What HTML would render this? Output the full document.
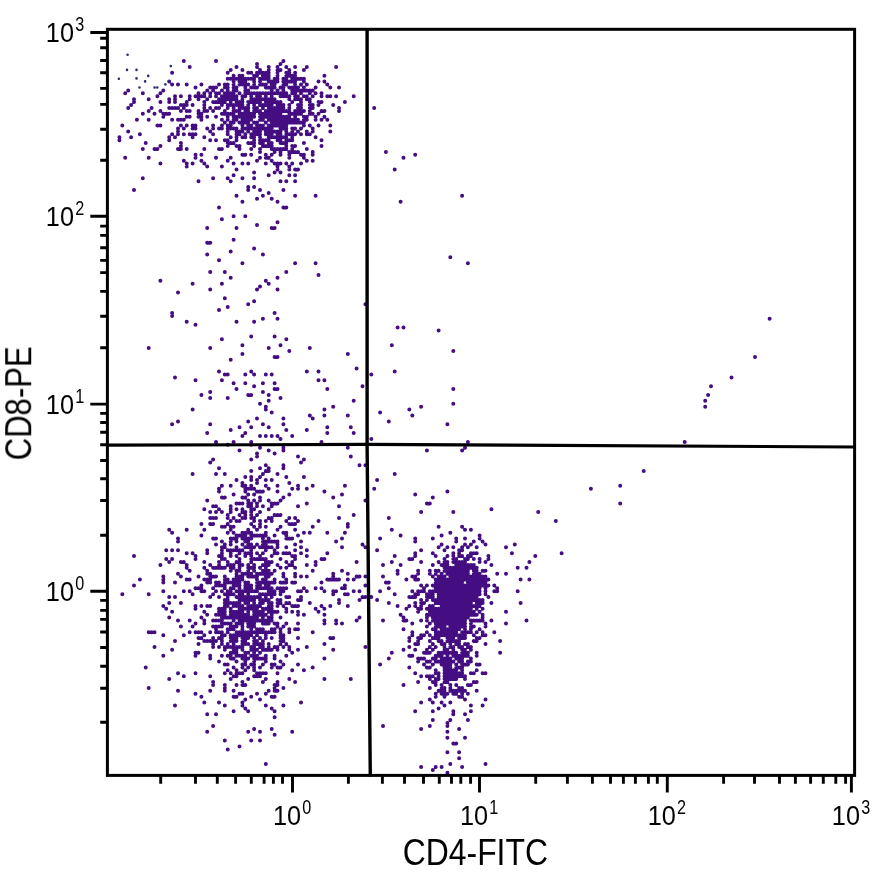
<!DOCTYPE html><html><head><meta charset="utf-8"><title>CD4-FITC vs CD8-PE</title>
<style>html,body{margin:0;padding:0;background:#fff;overflow:hidden}svg{display:block}text{font-family:"Liberation Sans",sans-serif;fill:#000}</style></head><body>
<svg width="884" height="887" viewBox="0 0 884 887">
<rect width="884" height="887" fill="#fff"/>
<path d="M280.5 128.5h.01M251.2 134.3h.01M301.0 102.1h.01M248.2 102.1h.01M268.7 137.2h.01M280.5 69.9h.01M265.8 134.3h.01M271.7 81.6h.01M283.4 81.6h.01M301.0 78.7h.01M271.7 134.3h.01M233.6 105.0h.01M248.2 110.9h.01M260.0 78.7h.01M309.8 110.9h.01M277.5 75.7h.01M268.7 69.9h.01M271.7 87.4h.01M242.4 128.5h.01M286.3 75.7h.01M274.6 81.6h.01M274.6 99.2h.01M274.6 107.9h.01M227.7 87.4h.01M306.8 116.7h.01M301.0 93.3h.01M254.1 107.9h.01M292.2 81.6h.01M221.9 113.8h.01M292.2 75.7h.01M245.3 90.4h.01M245.3 93.3h.01M312.7 105.0h.01M289.3 110.9h.01M254.1 140.2h.01M286.3 119.7h.01M254.1 87.4h.01M309.8 134.3h.01M268.7 110.9h.01M227.7 93.3h.01M301.0 107.9h.01M251.2 87.4h.01M233.6 113.8h.01M230.7 93.3h.01M283.4 78.7h.01M248.2 90.4h.01M283.4 90.4h.01M236.5 119.7h.01M268.7 107.9h.01M286.3 110.9h.01M248.2 119.7h.01M274.6 87.4h.01M248.2 84.5h.01M233.6 93.3h.01M286.3 93.3h.01M239.5 84.5h.01M221.9 119.7h.01M230.7 122.6h.01M301.0 90.4h.01M271.7 125.5h.01M298.0 119.7h.01M230.7 102.1h.01M257.0 107.9h.01M230.7 78.7h.01M298.0 96.2h.01M303.9 125.5h.01M254.1 105.0h.01M271.7 93.3h.01M257.0 128.5h.01M224.8 122.6h.01M283.4 128.5h.01M242.4 107.9h.01M257.0 134.3h.01M233.6 99.2h.01M245.3 122.6h.01M306.8 84.5h.01M277.5 72.8h.01M277.5 102.1h.01M227.7 78.7h.01M315.6 87.4h.01M268.7 102.1h.01M265.8 128.5h.01M301.0 122.6h.01M295.1 90.4h.01M230.7 128.5h.01M260.0 72.8h.01M295.1 93.3h.01M277.5 140.2h.01M298.0 131.4h.01M242.4 105.0h.01M312.7 96.2h.01M262.9 125.5h.01M277.5 107.9h.01M245.3 84.5h.01M260.0 119.7h.01M309.8 99.2h.01M280.5 116.7h.01M260.0 116.7h.01M289.3 75.7h.01M271.7 105.0h.01M271.7 99.2h.01M245.3 96.2h.01M257.0 110.9h.01M260.0 93.3h.01M257.0 122.6h.01M274.6 102.1h.01M233.6 90.4h.01M239.5 122.6h.01M216.0 116.7h.01M280.5 119.7h.01M257.0 125.5h.01M236.5 87.4h.01M303.9 116.7h.01M292.2 87.4h.01M254.1 78.7h.01M233.6 75.7h.01M233.6 81.6h.01M265.8 78.7h.01M245.3 113.8h.01M295.1 78.7h.01M286.3 66.9h.01M301.0 84.5h.01M289.3 113.8h.01M321.5 110.9h.01M289.3 99.2h.01M254.1 75.7h.01M254.1 99.2h.01M295.1 119.7h.01M242.4 75.7h.01M295.1 66.9h.01M251.2 128.5h.01M251.2 119.7h.01M283.4 84.5h.01M274.6 131.4h.01M262.9 84.5h.01M248.2 107.9h.01M245.3 116.7h.01M236.5 105.0h.01M233.6 84.5h.01M309.8 105.0h.01M271.7 119.7h.01M262.9 78.7h.01M245.3 110.9h.01M262.9 105.0h.01M236.5 128.5h.01M251.2 78.7h.01M224.8 87.4h.01M236.5 96.2h.01M271.7 84.5h.01M286.3 72.8h.01M268.7 78.7h.01M227.7 90.4h.01M262.9 107.9h.01M254.1 122.6h.01M292.2 93.3h.01M289.3 107.9h.01M298.0 113.8h.01M268.7 105.0h.01M301.0 99.2h.01M260.0 131.4h.01M298.0 99.2h.01M260.0 102.1h.01M295.1 110.9h.01M306.8 96.2h.01M239.5 75.7h.01M283.4 96.2h.01M239.5 81.6h.01M268.7 113.8h.01M221.9 102.1h.01M257.0 75.7h.01M260.0 81.6h.01M242.4 137.2h.01M227.7 84.5h.01M268.7 93.3h.01M298.0 105.0h.01M283.4 105.0h.01M286.3 128.5h.01M245.3 134.3h.01M280.5 64.0h.01M257.0 87.4h.01M265.8 96.2h.01M277.5 116.7h.01M295.1 87.4h.01M277.5 69.9h.01M224.8 84.5h.01M254.1 102.1h.01M245.3 137.2h.01M262.9 113.8h.01M298.0 107.9h.01M236.5 78.7h.01M292.2 137.2h.01M292.2 78.7h.01M306.8 134.3h.01M295.1 134.3h.01M242.4 81.6h.01M257.0 99.2h.01M265.8 99.2h.01M242.4 119.7h.01M251.2 137.2h.01M236.5 66.9h.01M245.3 78.7h.01M274.6 78.7h.01M265.8 131.4h.01M233.6 110.9h.01M295.1 96.2h.01M230.7 113.8h.01M295.1 99.2h.01M303.9 87.4h.01M262.9 75.7h.01M286.3 84.5h.01M286.3 125.5h.01M265.8 72.8h.01M233.6 128.5h.01M265.8 93.3h.01M268.7 140.2h.01M277.5 131.4h.01M233.6 116.7h.01M260.0 128.5h.01M298.0 110.9h.01M260.0 99.2h.01M309.8 113.8h.01M271.7 137.2h.01M227.7 119.7h.01M303.9 90.4h.01M257.0 72.8h.01M265.8 116.7h.01M227.7 99.2h.01M224.8 102.1h.01M245.3 107.9h.01M248.2 131.4h.01M260.0 134.3h.01M312.7 131.4h.01M289.3 81.6h.01M257.0 93.3h.01M230.7 105.0h.01M280.5 110.9h.01M236.5 134.3h.01M242.4 99.2h.01M318.5 125.5h.01M289.3 140.2h.01M236.5 99.2h.01M268.7 119.7h.01M233.6 96.2h.01M315.6 116.7h.01M312.7 90.4h.01M277.5 122.6h.01M292.2 128.5h.01M286.3 78.7h.01M271.7 96.2h.01M260.0 125.5h.01M280.5 113.8h.01M248.2 93.3h.01M295.1 113.8h.01M257.0 66.9h.01M262.9 72.8h.01M268.7 75.7h.01M260.0 113.8h.01M303.9 78.7h.01M242.4 125.5h.01M295.1 122.6h.01M286.3 134.3h.01M224.8 113.8h.01M219.0 99.2h.01M306.8 119.7h.01M283.4 125.5h.01M251.2 113.8h.01M236.5 90.4h.01M268.7 66.9h.01M306.8 99.2h.01M239.5 93.3h.01M274.6 93.3h.01M277.5 137.2h.01M277.5 81.6h.01M242.4 78.7h.01M260.0 69.9h.01M306.8 66.9h.01M213.1 90.4h.01M295.1 128.5h.01M295.1 81.6h.01M271.7 110.9h.01M280.5 93.3h.01M309.8 93.3h.01M230.7 125.5h.01M301.0 113.8h.01M221.9 90.4h.01M227.7 125.5h.01M239.5 113.8h.01M298.0 90.4h.01M239.5 116.7h.01M239.5 102.1h.01M298.0 78.7h.01M260.0 140.2h.01M242.4 69.9h.01M239.5 131.4h.01M274.6 84.5h.01M260.0 84.5h.01M265.8 84.5h.01M257.0 64.0h.01M295.1 72.8h.01M254.1 116.7h.01M271.7 90.4h.01M260.0 105.0h.01M257.0 96.2h.01M274.6 119.7h.01M227.7 96.2h.01M295.1 84.5h.01M239.5 78.7h.01M251.2 116.7h.01M318.5 102.1h.01M254.1 131.4h.01M265.8 75.7h.01M257.0 131.4h.01M277.5 93.3h.01M268.7 72.8h.01M254.1 110.9h.01M303.9 69.9h.01M233.6 107.9h.01M289.3 105.0h.01M309.8 90.4h.01M289.3 122.6h.01M277.5 78.7h.01M289.3 119.7h.01M321.5 96.2h.01M309.8 102.1h.01M286.3 131.4h.01M306.8 90.4h.01M251.2 72.8h.01M283.4 87.4h.01M283.4 116.7h.01M283.4 122.6h.01M280.5 102.1h.01M286.3 116.7h.01M292.2 113.8h.01M277.5 113.8h.01M274.6 110.9h.01M295.1 116.7h.01M265.8 102.1h.01M271.7 116.7h.01M274.6 113.8h.01M286.3 122.6h.01M280.5 107.9h.01M271.7 107.9h.01M283.4 107.9h.01M277.5 105.0h.01M257.0 102.1h.01M283.4 119.7h.01M265.8 110.9h.01M292.2 119.7h.01M274.6 116.7h.01M289.3 116.7h.01M280.5 122.6h.01M277.5 119.7h.01M271.7 128.5h.01M277.5 110.9h.01M265.8 113.8h.01M271.7 122.6h.01M277.5 134.3h.01M303.9 96.2h.01M251.2 102.1h.01M262.9 93.3h.01M268.7 125.5h.01M280.5 87.4h.01M303.9 81.6h.01M236.5 116.7h.01M230.7 157.7h.01M277.5 90.4h.01M248.2 125.5h.01M201.4 113.8h.01M289.3 87.4h.01M271.7 102.1h.01M271.7 146.0h.01M248.2 72.8h.01M271.7 113.8h.01M251.2 125.5h.01M292.2 122.6h.01M289.3 69.9h.01M283.4 137.2h.01M280.5 151.9h.01M309.8 125.5h.01M268.7 128.5h.01M318.5 81.6h.01M230.7 96.2h.01M283.4 93.3h.01M268.7 143.1h.01M219.0 84.5h.01M239.5 149.0h.01M321.5 93.3h.01M230.7 99.2h.01M312.7 128.5h.01M315.6 119.7h.01M242.4 122.6h.01M260.0 137.2h.01M298.0 87.4h.01M251.2 93.3h.01M283.4 110.9h.01M248.2 78.7h.01M207.2 90.4h.01M262.9 146.0h.01M321.5 119.7h.01M268.7 99.2h.01M312.7 113.8h.01M265.8 87.4h.01M268.7 87.4h.01M268.7 116.7h.01M242.4 102.1h.01M301.0 128.5h.01M227.7 107.9h.01M265.8 105.0h.01M262.9 99.2h.01M295.1 75.7h.01M251.2 99.2h.01M224.8 110.9h.01M301.0 110.9h.01M189.7 134.3h.01M298.0 122.6h.01M254.1 128.5h.01M303.9 110.9h.01M239.5 110.9h.01M312.7 107.9h.01M242.4 96.2h.01M289.3 72.8h.01M242.4 113.8h.01M248.2 128.5h.01M254.1 113.8h.01M301.0 105.0h.01M280.5 96.2h.01M286.3 96.2h.01M280.5 131.4h.01M309.8 107.9h.01M280.5 125.5h.01M292.2 102.1h.01M318.5 105.0h.01M303.9 122.6h.01M260.0 96.2h.01M216.0 140.2h.01M280.5 137.2h.01M227.7 128.5h.01M260.0 151.9h.01M248.2 116.7h.01M245.3 119.7h.01M254.1 81.6h.01M268.7 81.6h.01M262.9 116.7h.01M227.7 116.7h.01M242.4 84.5h.01M321.5 102.1h.01M286.3 81.6h.01M221.9 128.5h.01M227.7 160.7h.01M221.9 125.5h.01M289.3 96.2h.01M251.2 96.2h.01M298.0 151.9h.01M289.3 151.9h.01M286.3 143.1h.01M277.5 163.6h.01M289.3 166.5h.01M245.3 154.8h.01M260.0 149.0h.01M236.5 146.0h.01M312.7 154.8h.01M306.8 131.4h.01M292.2 134.3h.01M265.8 140.2h.01M274.6 122.6h.01M286.3 149.0h.01M262.9 140.2h.01M295.1 146.0h.01M268.7 134.3h.01M260.0 143.1h.01M265.8 154.8h.01M280.5 140.2h.01M262.9 143.1h.01M233.6 143.1h.01M295.1 151.9h.01M289.3 157.7h.01M283.4 149.0h.01M227.7 143.1h.01M248.2 143.1h.01M251.2 154.8h.01M242.4 154.8h.01M292.2 146.0h.01M283.4 143.1h.01M260.0 157.7h.01M280.5 143.1h.01M271.7 160.7h.01M274.6 125.5h.01M242.4 131.4h.01M277.5 169.5h.01M280.5 149.0h.01M265.8 122.6h.01M251.2 149.0h.01M286.3 137.2h.01M262.9 128.5h.01M204.3 137.2h.01M274.6 137.2h.01M306.8 149.0h.01M265.8 163.6h.01M265.8 157.7h.01M271.7 149.0h.01M236.5 140.2h.01M292.2 149.0h.01M280.5 134.3h.01M303.9 119.7h.01M298.0 169.5h.01M315.6 137.2h.01M301.0 134.3h.01M268.7 146.0h.01M277.5 125.5h.01M251.2 143.1h.01M216.0 157.7h.01M254.1 137.2h.01M219.0 149.0h.01M274.6 149.0h.01M227.7 146.0h.01M254.1 146.0h.01M213.1 128.5h.01M216.0 102.1h.01M180.9 96.2h.01M239.5 134.3h.01M207.2 116.7h.01M180.9 105.0h.01M189.7 116.7h.01M201.4 154.8h.01M198.5 113.8h.01M216.0 107.9h.01M180.9 149.0h.01M195.5 134.3h.01M204.3 105.0h.01M201.4 96.2h.01M277.5 66.9h.01M210.2 140.2h.01M227.7 72.8h.01M224.8 93.3h.01M221.9 105.0h.01M195.5 154.8h.01M198.5 116.7h.01M245.3 128.5h.01M280.5 105.0h.01M210.2 107.9h.01M248.2 113.8h.01M180.9 119.7h.01M198.5 99.2h.01M254.1 93.3h.01M204.3 149.0h.01M195.5 125.5h.01M283.4 61.1h.01M221.9 149.0h.01M236.5 131.4h.01M198.5 93.3h.01M219.0 128.5h.01M245.3 87.4h.01M186.7 102.1h.01M227.7 113.8h.01M186.7 84.5h.01M227.7 140.2h.01M245.3 81.6h.01M216.0 93.3h.01M204.3 96.2h.01M221.9 96.2h.01M213.1 134.3h.01M195.5 96.2h.01M227.7 134.3h.01M210.2 131.4h.01M224.8 99.2h.01M221.9 166.5h.01M230.7 143.1h.01M178.0 119.7h.01M178.0 149.0h.01M315.6 93.3h.01M224.8 96.2h.01M239.5 146.0h.01M224.8 140.2h.01M271.7 131.4h.01M233.6 87.4h.01M221.9 99.2h.01M219.0 93.3h.01M183.8 128.5h.01M239.5 107.9h.01M233.6 78.7h.01M227.7 105.0h.01M242.4 116.7h.01M233.6 163.6h.01M192.6 125.5h.01M207.2 110.9h.01M248.2 105.0h.01M236.5 137.2h.01M230.7 137.2h.01M178.0 134.3h.01M233.6 119.7h.01M201.4 84.5h.01M189.7 66.9h.01M186.7 116.7h.01M204.3 107.9h.01M230.7 69.9h.01M213.1 102.1h.01M254.1 84.5h.01M239.5 105.0h.01M204.3 163.6h.01M180.9 125.5h.01M216.0 87.4h.01M192.6 134.3h.01M192.6 105.0h.01M178.0 128.5h.01M289.3 134.3h.01M189.7 110.9h.01M292.2 131.4h.01M219.0 102.1h.01M180.9 146.0h.01M216.0 61.1h.01M227.7 131.4h.01M236.5 169.5h.01M195.5 157.7h.01M233.6 122.6h.01M198.5 110.9h.01M189.7 99.2h.01M198.5 96.2h.01M189.7 96.2h.01M213.1 87.4h.01M186.7 149.0h.01M192.6 137.2h.01M204.3 93.3h.01M192.6 163.6h.01M186.7 110.9h.01M201.4 119.7h.01M207.2 166.5h.01M186.7 163.6h.01M204.3 110.9h.01M213.1 125.5h.01M286.3 140.2h.01M183.8 119.7h.01M260.0 110.9h.01M271.7 143.1h.01M178.0 131.4h.01M292.2 90.4h.01M216.0 96.2h.01M201.4 116.7h.01M236.5 102.1h.01M204.3 102.1h.01M262.9 119.7h.01M183.8 134.3h.01M242.4 163.6h.01M201.4 160.7h.01M183.8 160.7h.01M192.6 128.5h.01M183.8 61.1h.01M180.9 110.9h.01M210.2 87.4h.01M254.1 134.3h.01M186.7 125.5h.01M207.2 128.5h.01M236.5 110.9h.01M207.2 99.2h.01M183.8 107.9h.01M219.0 107.9h.01M210.2 96.2h.01M186.7 166.5h.01M318.5 113.8h.01M178.0 84.5h.01M195.5 128.5h.01M183.8 105.0h.01M195.5 87.4h.01M180.9 143.1h.01M210.2 93.3h.01M186.7 105.0h.01M213.1 110.9h.01M303.9 143.1h.01M292.2 140.2h.01M303.9 154.8h.01M277.5 149.0h.01M289.3 169.5h.01M321.5 146.0h.01M301.0 154.8h.01M257.0 160.7h.01M277.5 166.5h.01M306.8 160.7h.01M265.8 146.0h.01M268.7 131.4h.01M274.6 163.6h.01M292.2 163.6h.01M292.2 151.9h.01M248.2 122.6h.01M303.9 157.7h.01M280.5 154.8h.01M289.3 154.8h.01M268.7 157.7h.01M254.1 143.1h.01M286.3 163.6h.01M274.6 151.9h.01M321.5 140.2h.01M312.7 151.9h.01M301.0 163.6h.01M286.3 146.0h.01M271.7 154.8h.01M248.2 163.6h.01M295.1 169.5h.01M280.5 163.6h.01M312.7 160.7h.01M254.1 172.4h.01M251.2 623.5h.01M245.3 553.2h.01M265.8 576.6h.01M248.2 602.9h.01M251.2 629.3h.01M248.2 594.2h.01M230.7 602.9h.01M233.6 644.0h.01M230.7 658.6h.01M251.2 635.2h.01M236.5 652.7h.01M230.7 591.2h.01M251.2 597.1h.01M257.0 617.6h.01M219.0 597.1h.01M277.5 588.3h.01M248.2 667.4h.01M245.3 600.0h.01M265.8 570.7h.01M248.2 626.4h.01M236.5 676.2h.01M286.3 608.8h.01M230.7 652.7h.01M245.3 591.2h.01M262.9 588.3h.01M230.7 582.4h.01M245.3 602.9h.01M254.1 676.2h.01M289.3 564.9h.01M233.6 667.4h.01M248.2 570.7h.01M260.0 597.1h.01M248.2 638.1h.01M227.7 629.3h.01M254.1 617.6h.01M251.2 547.3h.01M257.0 620.5h.01M265.8 567.8h.01M254.1 600.0h.01M254.1 614.7h.01M230.7 564.9h.01M245.3 588.3h.01M251.2 559.0h.01M242.4 644.0h.01M248.2 597.1h.01M233.6 626.4h.01M274.6 582.4h.01M283.4 588.3h.01M242.4 655.7h.01M254.1 570.7h.01M245.3 541.4h.01M268.7 623.5h.01M254.1 564.9h.01M248.2 591.2h.01M245.3 641.0h.01M251.2 576.6h.01M230.7 638.1h.01M260.0 582.4h.01M236.5 661.5h.01M257.0 655.7h.01M251.2 588.3h.01M265.8 600.0h.01M248.2 576.6h.01M265.8 614.7h.01M233.6 649.8h.01M257.0 553.2h.01M262.9 541.4h.01M213.1 685.0h.01M254.1 608.8h.01M221.9 614.7h.01M268.7 582.4h.01M213.1 646.9h.01M230.7 529.7h.01M219.0 608.8h.01M274.6 687.9h.01M224.8 594.2h.01M251.2 608.8h.01M239.5 632.2h.01M216.0 576.6h.01M242.4 608.8h.01M260.0 644.0h.01M245.3 614.7h.01M262.9 620.5h.01M242.4 594.2h.01M248.2 617.6h.01M254.1 661.5h.01M280.5 635.2h.01M254.1 597.1h.01M251.2 515.1h.01M236.5 632.2h.01M236.5 635.2h.01M271.7 573.7h.01M227.7 532.7h.01M233.6 564.9h.01M239.5 567.8h.01M280.5 591.2h.01M207.2 614.7h.01M254.1 652.7h.01M260.0 605.9h.01M227.7 602.9h.01M236.5 585.4h.01M254.1 667.4h.01M274.6 646.9h.01M233.6 602.9h.01M221.9 556.1h.01M274.6 629.3h.01M242.4 579.5h.01M210.2 641.0h.01M271.7 620.5h.01M245.3 617.6h.01M265.8 632.2h.01M242.4 576.6h.01M239.5 594.2h.01M271.7 561.9h.01M213.1 588.3h.01M230.7 646.9h.01M277.5 600.0h.01M224.8 559.0h.01M245.3 644.0h.01M245.3 658.6h.01M239.5 608.8h.01M242.4 646.9h.01M233.6 582.4h.01M242.4 614.7h.01M245.3 635.2h.01M268.7 646.9h.01M245.3 652.7h.01M257.0 588.3h.01M254.1 567.8h.01M277.5 605.9h.01M271.7 617.6h.01M248.2 600.0h.01M242.4 626.4h.01M262.9 594.2h.01M257.0 605.9h.01M221.9 608.8h.01M254.1 591.2h.01M260.0 602.9h.01M262.9 614.7h.01M224.8 547.3h.01M265.8 550.2h.01M239.5 597.1h.01M254.1 623.5h.01M254.1 620.5h.01M233.6 641.0h.01M236.5 655.7h.01M213.1 626.4h.01M233.6 605.9h.01M216.0 567.8h.01M248.2 588.3h.01M262.9 617.6h.01M236.5 605.9h.01M242.4 629.3h.01M257.0 614.7h.01M230.7 617.6h.01M248.2 585.4h.01M248.2 567.8h.01M262.9 623.5h.01M242.4 591.2h.01M210.2 579.5h.01M239.5 617.6h.01M210.2 564.9h.01M254.1 611.7h.01M257.0 673.2h.01M236.5 641.0h.01M230.7 629.3h.01M260.0 611.7h.01M221.9 641.0h.01M242.4 600.0h.01M248.2 611.7h.01M257.0 641.0h.01M245.3 620.5h.01M227.7 632.2h.01M248.2 532.7h.01M254.1 649.8h.01M254.1 655.7h.01M268.7 594.2h.01M221.9 617.6h.01M230.7 570.7h.01M221.9 635.2h.01M265.8 588.3h.01M257.0 644.0h.01M260.0 658.6h.01M233.6 532.7h.01M227.7 617.6h.01M248.2 582.4h.01M251.2 556.1h.01M233.6 585.4h.01M251.2 600.0h.01M251.2 550.2h.01M213.1 682.0h.01M251.2 626.4h.01M242.4 605.9h.01M239.5 564.9h.01M236.5 626.4h.01M260.0 620.5h.01M248.2 635.2h.01M230.7 635.2h.01M236.5 623.5h.01M251.2 664.5h.01M230.7 556.1h.01M227.7 564.9h.01M251.2 632.2h.01M271.7 594.2h.01M245.3 670.3h.01M242.4 664.5h.01M224.8 635.2h.01M271.7 629.3h.01M254.1 638.1h.01M260.0 567.8h.01M248.2 632.2h.01M260.0 652.7h.01M257.0 576.6h.01M257.0 611.7h.01M233.6 629.3h.01M242.4 573.7h.01M230.7 641.0h.01M265.8 620.5h.01M213.1 644.0h.01M289.3 553.2h.01M242.4 673.2h.01M227.7 600.0h.01M248.2 658.6h.01M245.3 632.2h.01M248.2 620.5h.01M242.4 658.6h.01M239.5 602.9h.01M254.1 605.9h.01M260.0 667.4h.01M251.2 538.5h.01M224.8 608.8h.01M257.0 579.5h.01M242.4 649.8h.01M221.9 623.5h.01M239.5 591.2h.01M248.2 644.0h.01M221.9 591.2h.01M248.2 608.8h.01M251.2 553.2h.01M236.5 638.1h.01M262.9 649.8h.01M204.3 529.7h.01M242.4 538.5h.01M219.0 556.1h.01M239.5 588.3h.01M262.9 608.8h.01M236.5 602.9h.01M251.2 605.9h.01M233.6 635.2h.01M280.5 588.3h.01M262.9 559.0h.01M265.8 561.9h.01M224.8 685.0h.01M230.7 520.9h.01M245.3 661.5h.01M242.4 623.5h.01M254.1 576.6h.01M227.7 605.9h.01M260.0 638.1h.01M248.2 652.7h.01M257.0 573.7h.01M236.5 646.9h.01M262.9 658.6h.01M265.8 594.2h.01M262.9 553.2h.01M260.0 673.2h.01M201.4 632.2h.01M242.4 641.0h.01M224.8 585.4h.01M271.7 664.5h.01M236.5 573.7h.01M233.6 588.3h.01M271.7 547.3h.01M283.4 591.2h.01M248.2 623.5h.01M233.6 567.8h.01M277.5 646.9h.01M224.8 600.0h.01M274.6 594.2h.01M242.4 550.2h.01M221.9 644.0h.01M262.9 644.0h.01M283.4 532.7h.01M277.5 544.4h.01M260.0 526.8h.01M245.3 573.7h.01M239.5 646.9h.01M242.4 611.7h.01M204.3 635.2h.01M292.2 611.7h.01M257.0 658.6h.01M227.7 591.2h.01M216.0 585.4h.01M271.7 588.3h.01M257.0 649.8h.01M227.7 597.1h.01M262.9 491.6h.01M257.0 585.4h.01M254.1 535.6h.01M233.6 538.5h.01M262.9 535.6h.01M233.6 638.1h.01M227.7 623.5h.01M268.7 576.6h.01M265.8 547.3h.01M251.2 561.9h.01M277.5 564.9h.01M260.0 559.0h.01M236.5 570.7h.01M260.0 614.7h.01M271.7 638.1h.01M286.3 579.5h.01M254.1 559.0h.01M265.8 608.8h.01M248.2 573.7h.01M230.7 673.2h.01M265.8 585.4h.01M230.7 608.8h.01M224.8 582.4h.01M221.9 626.4h.01M239.5 600.0h.01M268.7 608.8h.01M233.6 652.7h.01M239.5 553.2h.01M210.2 605.9h.01M254.1 632.2h.01M257.0 582.4h.01M230.7 541.4h.01M248.2 605.9h.01M286.3 623.5h.01M221.9 567.8h.01M260.0 588.3h.01M213.1 567.8h.01M219.0 632.2h.01M239.5 623.5h.01M242.4 544.4h.01M230.7 588.3h.01M201.4 588.3h.01M233.6 611.7h.01M224.8 611.7h.01M277.5 626.4h.01M265.8 635.2h.01M262.9 602.9h.01M227.7 594.2h.01M242.4 617.6h.01M242.4 620.5h.01M227.7 646.9h.01M251.2 591.2h.01M268.7 600.0h.01M251.2 646.9h.01M201.4 591.2h.01M236.5 597.1h.01M242.4 667.4h.01M260.0 629.3h.01M239.5 614.7h.01M257.0 608.8h.01M219.0 585.4h.01M254.1 658.6h.01M268.7 617.6h.01M265.8 544.4h.01M239.5 570.7h.01M245.3 547.3h.01M224.8 576.6h.01M271.7 582.4h.01M213.1 576.6h.01M274.6 553.2h.01M248.2 553.2h.01M251.2 573.7h.01M260.0 556.1h.01M221.9 655.7h.01M265.8 597.1h.01M239.5 582.4h.01M277.5 602.9h.01M262.9 629.3h.01M216.0 641.0h.01M251.2 649.8h.01M233.6 617.6h.01M251.2 620.5h.01M262.9 611.7h.01M265.8 573.7h.01M236.5 685.0h.01M251.2 567.8h.01M245.3 532.7h.01M283.4 576.6h.01M262.9 570.7h.01M219.0 646.9h.01M268.7 649.8h.01M283.4 626.4h.01M268.7 588.3h.01M260.0 646.9h.01M236.5 582.4h.01M257.0 635.2h.01M262.9 632.2h.01M219.0 561.9h.01M265.8 579.5h.01M245.3 655.7h.01M268.7 573.7h.01M268.7 602.9h.01M239.5 559.0h.01M271.7 605.9h.01M254.1 626.4h.01M248.2 614.7h.01M236.5 556.1h.01M286.3 655.7h.01M207.2 579.5h.01M227.7 579.5h.01M254.1 526.8h.01M268.7 471.1h.01M230.7 567.8h.01M210.2 523.9h.01M204.3 641.0h.01M265.8 679.1h.01M245.3 556.1h.01M221.9 541.4h.01M298.0 611.7h.01M280.5 617.6h.01M274.6 685.0h.01M245.3 685.0h.01M260.0 535.6h.01M239.5 635.2h.01M295.1 682.0h.01M245.3 608.8h.01M216.0 626.4h.01M230.7 611.7h.01M219.0 611.7h.01M257.0 482.9h.01M265.8 541.4h.01M257.0 479.9h.01M265.8 559.0h.01M283.4 553.2h.01M236.5 550.2h.01M221.9 638.1h.01M248.2 547.3h.01M280.5 641.0h.01M230.7 512.1h.01M236.5 541.4h.01M216.0 538.5h.01M213.1 518.0h.01M271.7 520.9h.01M271.7 611.7h.01M201.4 638.1h.01M248.2 529.7h.01M210.2 573.7h.01M248.2 564.9h.01M230.7 655.7h.01M198.5 644.0h.01M280.5 559.0h.01M257.0 629.3h.01M274.6 591.2h.01M260.0 573.7h.01M219.0 488.7h.01M265.8 623.5h.01M283.4 664.5h.01M245.3 664.5h.01M295.1 629.3h.01M201.4 535.6h.01M213.1 538.5h.01M277.5 667.4h.01M224.8 526.8h.01M236.5 579.5h.01M301.0 600.0h.01M245.3 582.4h.01M230.7 626.4h.01M221.9 485.8h.01M277.5 673.2h.01M260.0 632.2h.01M254.1 646.9h.01M295.1 556.1h.01M236.5 591.2h.01M280.5 629.3h.01M227.7 561.9h.01M260.0 594.2h.01M277.5 685.0h.01M239.5 561.9h.01M227.7 655.7h.01M233.6 620.5h.01M221.9 611.7h.01M257.0 597.1h.01M260.0 676.2h.01M239.5 655.7h.01M271.7 556.1h.01M224.8 588.3h.01M277.5 553.2h.01M198.5 652.7h.01M248.2 500.4h.01M230.7 553.2h.01M239.5 611.7h.01M289.3 494.6h.01M268.7 644.0h.01M268.7 605.9h.01M265.8 582.4h.01M230.7 550.2h.01M227.7 582.4h.01M260.0 600.0h.01M224.8 544.4h.01M233.6 526.8h.01M257.0 559.0h.01M207.2 582.4h.01M265.8 655.7h.01M268.7 632.2h.01M239.5 585.4h.01M251.2 617.6h.01M219.0 567.8h.01M239.5 550.2h.01M233.6 614.7h.01M271.7 614.7h.01M213.1 638.1h.01M292.2 670.3h.01M230.7 594.2h.01M230.7 614.7h.01M277.5 541.4h.01M236.5 617.6h.01M286.3 644.0h.01M265.8 649.8h.01M289.3 679.1h.01M271.7 602.9h.01M262.9 582.4h.01M233.6 646.9h.01M248.2 679.1h.01M242.4 564.9h.01M292.2 652.7h.01M210.2 597.1h.01M216.0 629.3h.01M204.3 579.5h.01M233.6 676.2h.01M213.1 523.9h.01M236.5 576.6h.01M251.2 535.6h.01M248.2 541.4h.01M271.7 608.8h.01M233.6 594.2h.01M204.3 509.2h.01M207.2 573.7h.01M298.0 535.6h.01M274.6 550.2h.01M277.5 682.0h.01M210.2 512.1h.01M280.5 526.8h.01M274.6 535.6h.01M268.7 591.2h.01M239.5 579.5h.01M213.1 459.4h.01M245.3 477.0h.01M271.7 597.1h.01M251.2 506.3h.01M216.0 632.2h.01M283.4 646.9h.01M221.9 585.4h.01M210.2 676.2h.01M298.0 614.7h.01M283.4 635.2h.01M207.2 553.2h.01M204.3 620.5h.01M257.0 632.2h.01M260.0 512.1h.01M295.1 559.0h.01M292.2 556.1h.01M292.2 564.9h.01M201.4 605.9h.01M233.6 579.5h.01M286.3 520.9h.01M221.9 497.5h.01M239.5 605.9h.01M283.4 573.7h.01M271.7 503.4h.01M213.1 620.5h.01M204.3 591.2h.01M224.8 673.2h.01M207.2 605.9h.01M216.0 544.4h.01M274.6 515.1h.01M239.5 503.4h.01M274.6 655.7h.01M271.7 591.2h.01M268.7 541.4h.01M280.5 661.5h.01M207.2 570.7h.01M265.8 638.1h.01M224.8 497.5h.01M224.8 646.9h.01M204.3 611.7h.01M210.2 582.4h.01M274.6 579.5h.01M230.7 538.5h.01M210.2 658.6h.01M242.4 535.6h.01M207.2 500.4h.01M210.2 632.2h.01M224.8 617.6h.01M265.8 564.9h.01M230.7 679.1h.01M245.3 597.1h.01M245.3 638.1h.01M216.0 474.1h.01M280.5 638.1h.01M280.5 667.4h.01M257.0 515.1h.01M245.3 497.5h.01M286.3 611.7h.01M236.5 535.6h.01M239.5 520.9h.01M219.0 582.4h.01M224.8 567.8h.01M254.1 644.0h.01M280.5 582.4h.01M224.8 623.5h.01M245.3 491.6h.01M280.5 594.2h.01M201.4 523.9h.01M292.2 605.9h.01M298.0 638.1h.01M262.9 600.0h.01M289.3 646.9h.01M283.4 687.9h.01M251.2 471.1h.01M221.9 547.3h.01M271.7 632.2h.01M271.7 518.0h.01M295.1 582.4h.01M295.1 605.9h.01M286.3 547.3h.01M274.6 658.6h.01M257.0 676.2h.01M233.6 550.2h.01M271.7 667.4h.01M254.1 670.3h.01M239.5 620.5h.01M260.0 500.4h.01M221.9 620.5h.01M210.2 655.7h.01M295.1 529.7h.01M262.9 682.0h.01M274.6 453.6h.01M216.0 591.2h.01M268.7 620.5h.01M268.7 585.4h.01M271.7 649.8h.01M239.5 535.6h.01M242.4 597.1h.01M221.9 632.2h.01M227.7 670.3h.01M224.8 649.8h.01M274.6 623.5h.01M280.5 602.9h.01M242.4 638.1h.01M204.3 623.5h.01M286.3 602.9h.01M236.5 503.4h.01M219.0 620.5h.01M298.0 600.0h.01M233.6 518.0h.01M283.4 638.1h.01M274.6 632.2h.01M289.3 629.3h.01M268.7 538.5h.01M245.3 518.0h.01M236.5 611.7h.01M242.4 682.0h.01M286.3 567.8h.01M262.9 673.2h.01M277.5 474.1h.01M274.6 664.5h.01M221.9 550.2h.01M224.8 579.5h.01M242.4 532.7h.01M268.7 561.9h.01M245.3 585.4h.01M262.9 646.9h.01M245.3 485.8h.01M265.8 661.5h.01M277.5 623.5h.01M262.9 573.7h.01M254.1 547.3h.01M260.0 585.4h.01M257.0 591.2h.01M236.5 520.9h.01M219.0 638.1h.01M210.2 576.6h.01M242.4 485.8h.01M251.2 532.7h.01M251.2 503.4h.01M280.5 632.2h.01M283.4 641.0h.01M216.0 518.0h.01M280.5 600.0h.01M227.7 644.0h.01M262.9 579.5h.01M216.0 582.4h.01M251.2 655.7h.01M236.5 649.8h.01M227.7 664.5h.01M277.5 649.8h.01M298.0 605.9h.01M224.8 602.9h.01M216.0 620.5h.01M292.2 538.5h.01M248.2 488.7h.01M242.4 512.1h.01M277.5 611.7h.01M239.5 673.2h.01M286.3 535.6h.01M224.8 605.9h.01M265.8 485.8h.01M289.3 602.9h.01M251.2 585.4h.01M268.7 611.7h.01M277.5 503.4h.01M219.0 614.7h.01M262.9 547.3h.01M224.8 687.9h.01M236.5 561.9h.01M274.6 611.7h.01M227.7 550.2h.01M262.9 664.5h.01M198.5 632.2h.01M254.1 602.9h.01M283.4 582.4h.01M242.4 632.2h.01M286.3 582.4h.01M262.9 564.9h.01M242.4 518.0h.01M265.8 673.2h.01M262.9 506.3h.01M251.2 477.0h.01M262.9 544.4h.01M198.5 576.6h.01M224.8 474.1h.01M221.9 559.0h.01M213.1 641.0h.01M236.5 673.2h.01M236.5 614.7h.01M254.1 641.0h.01M248.2 544.4h.01M277.5 547.3h.01M286.3 561.9h.01M219.0 661.5h.01M280.5 644.0h.01M277.5 515.1h.01M262.9 641.0h.01M233.6 658.6h.01M286.3 588.3h.01M298.0 649.8h.01M221.9 553.2h.01M298.0 623.5h.01M216.0 614.7h.01M242.4 685.0h.01M268.7 570.7h.01M219.0 626.4h.01M224.8 664.5h.01M254.1 664.5h.01M292.2 582.4h.01M230.7 623.5h.01M295.1 576.6h.01M242.4 635.2h.01M260.0 447.7h.01M265.8 479.9h.01M274.6 503.4h.01M257.0 503.4h.01M221.9 526.8h.01M210.2 518.0h.01M216.0 512.1h.01M292.2 523.9h.01M219.0 509.2h.01M268.7 500.4h.01M289.3 518.0h.01M295.1 544.4h.01M298.0 456.5h.01M277.5 529.7h.01M271.7 541.4h.01M242.4 503.4h.01M268.7 468.2h.01M248.2 538.5h.01M230.7 509.2h.01M230.7 506.3h.01M245.3 535.6h.01M257.0 529.7h.01M242.4 509.2h.01M254.1 488.7h.01M248.2 506.3h.01M227.7 515.1h.01M242.4 497.5h.01M280.5 500.4h.01M298.0 506.3h.01M268.7 450.6h.01M257.0 535.6h.01M227.7 518.0h.01M257.0 491.6h.01M210.2 462.4h.01M251.2 509.2h.01M295.1 550.2h.01M283.4 465.3h.01M251.2 518.0h.01M227.7 444.8h.01M251.2 485.8h.01M286.3 477.0h.01M242.4 482.9h.01M251.2 512.1h.01M254.1 494.6h.01M251.2 479.9h.01M230.7 485.8h.01M260.0 523.9h.01M265.8 535.6h.01M265.8 532.7h.01M230.7 526.8h.01M219.0 468.2h.01M277.5 491.6h.01M236.5 509.2h.01M251.2 444.8h.01M245.3 512.1h.01M236.5 479.9h.01M298.0 488.7h.01M262.9 474.1h.01M265.8 520.9h.01M257.0 453.6h.01M271.7 479.9h.01M260.0 497.5h.01M268.7 547.3h.01M265.8 465.3h.01M283.4 468.2h.01M213.1 506.3h.01M257.0 544.4h.01M248.2 494.6h.01M251.2 459.4h.01M216.0 506.3h.01M274.6 570.7h.01M239.5 450.6h.01M254.1 520.9h.01M248.2 503.4h.01M219.0 491.6h.01M236.5 538.5h.01M251.2 523.9h.01M260.0 468.2h.01M257.0 456.5h.01M268.7 509.2h.01M230.7 544.4h.01M245.3 515.1h.01M245.3 538.5h.01M254.1 500.4h.01M239.5 515.1h.01M260.0 477.0h.01M251.2 544.4h.01M254.1 518.0h.01M254.1 509.2h.01M289.3 482.9h.01M268.7 518.0h.01M283.4 450.6h.01M265.8 526.8h.01M283.4 447.7h.01M260.0 491.6h.01M221.9 512.1h.01M271.7 506.3h.01M245.3 488.7h.01M283.4 497.5h.01M286.3 538.5h.01M274.6 541.4h.01M236.5 547.3h.01M233.6 494.6h.01M227.7 523.9h.01M286.3 532.7h.01M268.7 488.7h.01M260.0 547.3h.01M257.0 506.3h.01M262.9 538.5h.01M277.5 485.8h.01M251.2 488.7h.01M260.0 520.9h.01M265.8 471.1h.01M292.2 488.7h.01M289.3 523.9h.01M265.8 658.6h.01M286.3 597.1h.01M298.0 591.2h.01M298.0 664.5h.01M289.3 597.1h.01M295.1 567.8h.01M280.5 567.8h.01M292.2 561.9h.01M298.0 629.3h.01M298.0 520.9h.01M280.5 515.1h.01M295.1 518.0h.01M286.3 553.2h.01M295.1 523.9h.01M268.7 564.9h.01M289.3 538.5h.01M289.3 649.8h.01M295.1 573.7h.01M289.3 632.2h.01M283.4 605.9h.01M298.0 485.8h.01M204.3 567.8h.01M213.1 594.2h.01M224.8 614.7h.01M204.3 561.9h.01M207.2 550.2h.01M236.5 670.3h.01M201.4 585.4h.01M201.4 617.6h.01M219.0 564.9h.01M207.2 641.0h.01M239.5 576.6h.01M456.2 594.2h.01M450.3 594.2h.01M470.9 605.9h.01M459.1 582.4h.01M453.3 597.1h.01M465.0 570.7h.01M456.2 591.2h.01M450.3 588.3h.01M473.8 576.6h.01M465.0 602.9h.01M473.8 582.4h.01M467.9 588.3h.01M465.0 591.2h.01M459.1 588.3h.01M444.5 620.5h.01M465.0 588.3h.01M456.2 600.0h.01M465.0 579.5h.01M447.4 597.1h.01M470.9 597.1h.01M453.3 620.5h.01M462.1 594.2h.01M470.9 591.2h.01M447.4 594.2h.01M453.3 632.2h.01M444.5 623.5h.01M467.9 602.9h.01M459.1 605.9h.01M438.6 600.0h.01M453.3 600.0h.01M467.9 597.1h.01M453.3 588.3h.01M462.1 602.9h.01M444.5 605.9h.01M456.2 567.8h.01M462.1 597.1h.01M447.4 617.6h.01M447.4 591.2h.01M459.1 600.0h.01M456.2 579.5h.01M453.3 608.8h.01M459.1 579.5h.01M450.3 632.2h.01M462.1 588.3h.01M467.9 576.6h.01M470.9 600.0h.01M447.4 602.9h.01M467.9 617.6h.01M456.2 576.6h.01M462.1 591.2h.01M465.0 600.0h.01M476.7 597.1h.01M444.5 614.7h.01M462.1 576.6h.01M456.2 588.3h.01M467.9 605.9h.01M453.3 585.4h.01M459.1 608.8h.01M441.6 614.7h.01M465.0 632.2h.01M459.1 620.5h.01M476.7 585.4h.01M453.3 591.2h.01M450.3 591.2h.01M450.3 597.1h.01M441.6 594.2h.01M459.1 597.1h.01M459.1 617.6h.01M456.2 602.9h.01M447.4 600.0h.01M447.4 614.7h.01M450.3 620.5h.01M470.9 588.3h.01M444.5 579.5h.01M456.2 608.8h.01M465.0 594.2h.01M435.7 600.0h.01M438.6 594.2h.01M459.1 611.7h.01M447.4 582.4h.01M467.9 600.0h.01M450.3 585.4h.01M450.3 573.7h.01M441.6 579.5h.01M479.6 585.4h.01M450.3 602.9h.01M462.1 582.4h.01M453.3 576.6h.01M438.6 608.8h.01M450.3 600.0h.01M467.9 582.4h.01M462.1 605.9h.01M450.3 623.5h.01M438.6 591.2h.01M459.1 626.4h.01M453.3 617.6h.01M459.1 561.9h.01M450.3 617.6h.01M453.3 573.7h.01M432.8 614.7h.01M456.2 611.7h.01M450.3 614.7h.01M467.9 594.2h.01M459.1 602.9h.01M465.0 605.9h.01M453.3 602.9h.01M447.4 629.3h.01M456.2 626.4h.01M462.1 579.5h.01M447.4 585.4h.01M453.3 605.9h.01M456.2 582.4h.01M441.6 597.1h.01M473.8 605.9h.01M473.8 600.0h.01M450.3 611.7h.01M450.3 608.8h.01M473.8 611.7h.01M479.6 605.9h.01M485.5 594.2h.01M444.5 588.3h.01M456.2 597.1h.01M456.2 605.9h.01M456.2 573.7h.01M462.1 561.9h.01M441.6 617.6h.01M470.9 611.7h.01M426.9 597.1h.01M462.1 608.8h.01M462.1 600.0h.01M462.1 573.7h.01M435.7 608.8h.01M444.5 582.4h.01M435.7 582.4h.01M432.8 576.6h.01M444.5 611.7h.01M465.0 611.7h.01M456.2 620.5h.01M459.1 585.4h.01M470.9 576.6h.01M462.1 611.7h.01M450.3 605.9h.01M465.0 564.9h.01M447.4 611.7h.01M459.1 591.2h.01M441.6 602.9h.01M459.1 594.2h.01M450.3 576.6h.01M444.5 602.9h.01M447.4 620.5h.01M459.1 576.6h.01M465.0 620.5h.01M479.6 594.2h.01M453.3 594.2h.01M497.2 588.3h.01M476.7 600.0h.01M453.3 611.7h.01M473.8 594.2h.01M462.1 614.7h.01M453.3 582.4h.01M465.0 573.7h.01M441.6 600.0h.01M444.5 594.2h.01M441.6 588.3h.01M465.0 608.8h.01M485.5 582.4h.01M429.8 591.2h.01M470.9 585.4h.01M444.5 597.1h.01M465.0 585.4h.01M462.1 585.4h.01M447.4 579.5h.01M459.1 614.7h.01M432.8 594.2h.01M476.7 591.2h.01M444.5 585.4h.01M479.6 591.2h.01M444.5 576.6h.01M456.2 585.4h.01M479.6 573.7h.01M470.9 614.7h.01M450.3 570.7h.01M441.6 582.4h.01M456.2 559.0h.01M444.5 617.6h.01M465.0 576.6h.01M476.7 582.4h.01M470.9 602.9h.01M476.7 576.6h.01M456.2 561.9h.01M447.4 608.8h.01M450.3 579.5h.01M456.2 614.7h.01M465.0 597.1h.01M447.4 605.9h.01M441.6 626.4h.01M473.8 591.2h.01M467.9 564.9h.01M470.9 608.8h.01M465.0 629.3h.01M441.6 623.5h.01M473.8 570.7h.01M447.4 588.3h.01M453.3 570.7h.01M470.9 594.2h.01M459.1 573.7h.01M435.7 617.6h.01M453.3 614.7h.01M450.3 635.2h.01M418.1 573.7h.01M473.8 588.3h.01M462.1 623.5h.01M432.8 611.7h.01M453.3 638.1h.01M438.6 585.4h.01M415.2 644.0h.01M418.1 608.8h.01M482.6 614.7h.01M444.5 664.5h.01M435.7 626.4h.01M450.3 626.4h.01M441.6 611.7h.01M462.1 626.4h.01M438.6 570.7h.01M421.1 608.8h.01M479.6 576.6h.01M479.6 600.0h.01M470.9 632.2h.01M479.6 602.9h.01M467.9 608.8h.01M444.5 559.0h.01M453.3 561.9h.01M476.7 614.7h.01M435.7 591.2h.01M447.4 635.2h.01M465.0 626.4h.01M444.5 591.2h.01M450.3 582.4h.01M438.6 641.0h.01M462.1 617.6h.01M435.7 646.9h.01M462.1 635.2h.01M444.5 644.0h.01M500.1 641.0h.01M438.6 588.3h.01M459.1 550.2h.01M441.6 632.2h.01M465.0 561.9h.01M426.9 600.0h.01M441.6 661.5h.01M465.0 559.0h.01M444.5 626.4h.01M450.3 629.3h.01M438.6 579.5h.01M462.1 570.7h.01M459.1 570.7h.01M476.7 594.2h.01M447.4 547.3h.01M482.6 635.2h.01M424.0 591.2h.01M488.4 556.1h.01M441.6 629.3h.01M456.2 655.7h.01M447.4 570.7h.01M426.9 614.7h.01M467.9 579.5h.01M432.8 620.5h.01M456.2 629.3h.01M462.1 547.3h.01M435.7 620.5h.01M462.1 567.8h.01M447.4 632.2h.01M429.8 608.8h.01M444.5 629.3h.01M479.6 638.1h.01M470.9 626.4h.01M435.7 611.7h.01M467.9 614.7h.01M441.6 591.2h.01M453.3 556.1h.01M465.0 649.8h.01M473.8 641.0h.01M485.5 579.5h.01M467.9 570.7h.01M429.8 646.9h.01M462.1 620.5h.01M470.9 623.5h.01M453.3 673.2h.01M456.2 644.0h.01M438.6 626.4h.01M453.3 567.8h.01M435.7 638.1h.01M456.2 564.9h.01M429.8 594.2h.01M444.5 550.2h.01M453.3 635.2h.01M467.9 547.3h.01M465.0 635.2h.01M482.6 600.0h.01M447.4 567.8h.01M456.2 623.5h.01M444.5 567.8h.01M418.1 591.2h.01M421.1 585.4h.01M456.2 617.6h.01M426.9 617.6h.01M485.5 644.0h.01M459.1 646.9h.01M435.7 623.5h.01M467.9 611.7h.01M444.5 564.9h.01M465.0 567.8h.01M435.7 585.4h.01M473.8 573.7h.01M438.6 617.6h.01M453.3 626.4h.01M426.9 667.4h.01M485.5 591.2h.01M467.9 567.8h.01M438.6 582.4h.01M441.6 635.2h.01M467.9 556.1h.01M488.4 559.0h.01M441.6 605.9h.01M467.9 591.2h.01M476.7 608.8h.01M441.6 608.8h.01M435.7 629.3h.01M465.0 623.5h.01M476.7 588.3h.01M465.0 614.7h.01M482.6 579.5h.01M476.7 573.7h.01M432.8 605.9h.01M456.2 641.0h.01M476.7 620.5h.01M456.2 570.7h.01M444.5 608.8h.01M459.1 629.3h.01M432.8 585.4h.01M482.6 585.4h.01M432.8 553.2h.01M429.8 597.1h.01M476.7 567.8h.01M465.0 655.7h.01M429.8 661.5h.01M467.9 585.4h.01M438.6 620.5h.01M426.9 585.4h.01M476.7 641.0h.01M444.5 570.7h.01M441.6 564.9h.01M429.8 573.7h.01M488.4 585.4h.01M444.5 600.0h.01M429.8 611.7h.01M459.1 623.5h.01M482.6 620.5h.01M447.4 556.1h.01M482.6 632.2h.01M435.7 573.7h.01M453.3 547.3h.01M447.4 564.9h.01M444.5 693.7h.01M444.5 667.4h.01M453.3 652.7h.01M470.9 582.4h.01M467.9 652.7h.01M462.1 550.2h.01M438.6 614.7h.01M470.9 556.1h.01M435.7 602.9h.01M438.6 611.7h.01M441.6 585.4h.01M476.7 605.9h.01M497.2 573.7h.01M415.2 649.8h.01M438.6 561.9h.01M435.7 614.7h.01M415.2 605.9h.01M470.9 646.9h.01M456.2 652.7h.01M459.1 635.2h.01M453.3 579.5h.01M441.6 576.6h.01M421.1 605.9h.01M441.6 655.7h.01M424.0 658.6h.01M450.3 638.1h.01M494.3 591.2h.01M473.8 579.5h.01M432.8 597.1h.01M435.7 682.0h.01M426.9 594.2h.01M459.1 553.2h.01M491.4 602.9h.01M479.6 588.3h.01M470.9 564.9h.01M432.8 564.9h.01M426.9 608.8h.01M485.5 561.9h.01M479.6 561.9h.01M479.6 559.0h.01M470.9 629.3h.01M467.9 573.7h.01M444.5 658.6h.01M432.8 617.6h.01M467.9 632.2h.01M435.7 635.2h.01M415.2 597.1h.01M432.8 608.8h.01M467.9 559.0h.01M459.1 556.1h.01M447.4 573.7h.01M470.9 579.5h.01M465.0 638.1h.01M435.7 579.5h.01M476.7 547.3h.01M421.1 550.2h.01M418.1 641.0h.01M453.3 553.2h.01M473.8 585.4h.01M432.8 600.0h.01M438.6 576.6h.01M470.9 620.5h.01M429.8 570.7h.01M406.4 620.5h.01M450.3 567.8h.01M438.6 638.1h.01M462.1 632.2h.01M485.5 585.4h.01M441.6 620.5h.01M453.3 629.3h.01M473.8 620.5h.01M453.3 623.5h.01M467.9 685.0h.01M438.6 635.2h.01M453.3 641.0h.01M421.1 600.0h.01M473.8 597.1h.01M444.5 561.9h.01M462.1 696.7h.01M476.7 632.2h.01M456.2 670.3h.01M476.7 602.9h.01M470.9 567.8h.01M473.8 564.9h.01M432.8 638.1h.01M467.9 664.5h.01M447.4 667.4h.01M462.1 564.9h.01M476.7 553.2h.01M462.1 673.2h.01M485.5 576.6h.01M447.4 638.1h.01M438.6 602.9h.01M444.5 632.2h.01M432.8 591.2h.01M482.6 570.7h.01M421.1 635.2h.01M479.6 620.5h.01M491.4 620.5h.01M421.1 620.5h.01M485.5 623.5h.01M424.0 602.9h.01M473.8 559.0h.01M453.3 559.0h.01M485.5 626.4h.01M429.8 614.7h.01M470.9 553.2h.01M479.6 582.4h.01M418.1 658.6h.01M482.6 602.9h.01M456.2 632.2h.01M456.2 679.1h.01M438.6 597.1h.01M441.6 573.7h.01M441.6 641.0h.01M491.4 564.9h.01M479.6 579.5h.01M459.1 655.7h.01M462.1 556.1h.01M444.5 635.2h.01M497.2 591.2h.01M435.7 658.6h.01M435.7 632.2h.01M441.6 644.0h.01M444.5 670.3h.01M488.4 597.1h.01M438.6 547.3h.01M506.0 611.7h.01M459.1 638.1h.01M459.1 567.8h.01M465.0 617.6h.01M418.1 661.5h.01M432.8 649.8h.01M438.6 655.7h.01M488.4 579.5h.01M429.8 605.9h.01M462.1 661.5h.01M409.3 638.1h.01M424.0 652.7h.01M482.6 608.8h.01M479.6 629.3h.01M447.4 623.5h.01M412.3 655.7h.01M473.8 567.8h.01M494.3 632.2h.01M438.6 679.1h.01M432.8 644.0h.01M409.3 597.1h.01M415.2 579.5h.01M462.1 638.1h.01M426.9 620.5h.01M409.3 667.4h.01M432.8 676.2h.01M412.3 632.2h.01M435.7 679.1h.01M426.9 632.2h.01M456.2 673.2h.01M415.2 556.1h.01M435.7 556.1h.01M415.2 673.2h.01M429.8 641.0h.01M526.5 620.5h.01M426.9 626.4h.01M426.9 649.8h.01M421.1 658.6h.01M467.9 661.5h.01M438.6 623.5h.01M418.1 594.2h.01M506.0 623.5h.01M438.6 632.2h.01M450.3 658.6h.01M485.5 635.2h.01M444.5 646.9h.01M453.3 649.8h.01M494.3 585.4h.01M473.8 553.2h.01M418.1 644.0h.01M415.2 594.2h.01M429.8 623.5h.01M482.6 582.4h.01M432.8 682.0h.01M476.7 579.5h.01M447.4 655.7h.01M412.3 635.2h.01M482.6 617.6h.01M406.4 608.8h.01M412.3 591.2h.01M447.4 561.9h.01M476.7 655.7h.01M432.8 629.3h.01M459.1 641.0h.01M424.0 588.3h.01M467.9 644.0h.01M511.9 553.2h.01M485.5 588.3h.01M476.7 570.7h.01M435.7 570.7h.01M456.2 658.6h.01M459.1 644.0h.01M403.5 617.6h.01M426.9 676.2h.01M418.1 611.7h.01M429.8 635.2h.01M485.5 570.7h.01M459.1 564.9h.01M473.8 635.2h.01M421.1 591.2h.01M453.3 679.1h.01M473.8 614.7h.01M421.1 638.1h.01M465.0 644.0h.01M476.7 638.1h.01M447.4 679.1h.01M479.6 611.7h.01M456.2 635.2h.01M412.3 576.6h.01M459.1 667.4h.01M500.1 652.7h.01M462.1 664.5h.01M476.7 652.7h.01M424.0 635.2h.01M482.6 576.6h.01M485.5 673.2h.01M459.1 696.7h.01M441.6 690.8h.01M450.3 690.8h.01M450.3 664.5h.01M444.5 690.8h.01M453.3 690.8h.01M444.5 676.2h.01M450.3 685.0h.01M450.3 644.0h.01M465.0 664.5h.01M447.4 693.7h.01M426.9 661.5h.01M462.1 670.3h.01M441.6 693.7h.01M441.6 687.9h.01M456.2 690.8h.01M447.4 673.2h.01M435.7 696.7h.01M444.5 696.7h.01M453.3 646.9h.01M465.0 690.8h.01M441.6 658.6h.01M432.8 664.5h.01M450.3 670.3h.01M465.0 676.2h.01M421.1 676.2h.01M429.8 652.7h.01M450.3 641.0h.01M447.4 682.0h.01M456.2 685.0h.01M441.6 652.7h.01M435.7 685.0h.01M450.3 673.2h.01M438.6 661.5h.01M476.7 690.8h.01M467.9 693.7h.01M444.5 682.0h.01M476.7 682.0h.01M447.4 652.7h.01M476.7 670.3h.01M467.9 646.9h.01M441.6 685.0h.01M447.4 649.8h.01M476.7 664.5h.01M450.3 661.5h.01M456.2 676.2h.01M444.5 673.2h.01M450.3 652.7h.01M447.4 658.6h.01M459.1 687.9h.01M470.9 661.5h.01M462.1 676.2h.01M462.1 655.7h.01M450.3 679.1h.01M462.1 646.9h.01M459.1 673.2h.01M438.6 652.7h.01M444.5 687.9h.01M453.3 661.5h.01M465.0 679.1h.01M429.8 679.1h.01M450.3 667.4h.01M438.6 690.8h.01M459.1 690.8h.01M470.9 658.6h.01M435.7 673.2h.01M456.2 667.4h.01M459.1 676.2h.01M462.1 690.8h.01M473.8 673.2h.01M462.1 652.7h.01M456.2 664.5h.01M441.6 664.5h.01M447.4 641.0h.01M444.5 661.5h.01M447.4 661.5h.01M453.3 676.2h.01M479.6 664.5h.01M473.8 682.0h.01M424.0 664.5h.01M459.1 661.5h.01M435.7 670.3h.01M444.5 652.7h.01M462.1 667.4h.01M429.8 687.9h.01M447.4 664.5h.01M450.3 646.9h.01M462.1 649.8h.01M450.3 687.9h.01M470.9 649.8h.01M429.8 676.2h.01M447.4 676.2h.01M459.1 658.6h.01M435.7 661.5h.01M453.3 655.7h.01M447.4 670.3h.01M456.2 693.7h.01M453.3 693.7h.01M438.6 673.2h.01M462.1 687.9h.01M453.3 670.3h.01M444.5 679.1h.01M450.3 676.2h.01M470.9 673.2h.01M444.5 649.8h.01M467.9 655.7h.01M432.8 658.6h.01M465.0 652.7h.01M462.1 693.7h.01M438.6 676.2h.01M465.0 699.6h.01M462.1 658.6h.01M482.6 673.2h.01M473.8 626.4h.01M435.7 693.7h.01M470.9 685.0h.01M429.8 667.4h.01M435.7 655.7h.01M415.2 602.9h.01M415.2 576.6h.01M409.3 641.0h.01M412.3 597.1h.01M409.3 646.9h.01M426.9 652.7h.01M421.1 561.9h.01M409.3 559.0h.01M403.5 629.3h.01M418.1 638.1h.01M418.1 579.5h.01M415.2 553.2h.01M418.1 570.7h.01M421.1 602.9h.01M412.3 623.5h.01M409.3 605.9h.01M412.3 559.0h.01M418.1 682.0h.01M409.3 655.7h.01M435.7 588.3h.01M406.4 579.5h.01M347.8 447.7h.01M350.8 456.5h.01M303.9 459.4h.01M301.0 462.4h.01M359.5 465.3h.01M365.4 465.3h.01M303.9 477.0h.01M312.7 485.8h.01M306.8 488.7h.01M344.9 485.8h.01M324.4 491.6h.01M342.0 494.6h.01M333.2 497.5h.01M306.8 503.4h.01M365.4 500.4h.01M339.0 506.3h.01M353.7 515.1h.01M339.0 518.0h.01M318.5 520.9h.01M347.8 523.9h.01M347.8 526.8h.01M312.7 526.8h.01M344.9 532.7h.01M327.3 532.7h.01M309.8 532.7h.01M303.9 532.7h.01M342.0 538.5h.01M336.1 541.4h.01M301.0 541.4h.01M362.5 544.4h.01M365.4 547.3h.01M342.0 547.3h.01M306.8 550.2h.01M301.0 547.3h.01M301.0 553.2h.01M327.3 553.2h.01M306.8 556.1h.01M321.5 559.0h.01M324.4 559.0h.01M315.6 561.9h.01M315.6 564.9h.01M356.6 561.9h.01M306.8 564.9h.01M342.0 570.7h.01M312.7 570.7h.01M333.2 573.7h.01M347.8 573.7h.01M301.0 576.6h.01M306.8 576.6h.01M356.6 576.6h.01M359.5 576.6h.01M365.4 576.6h.01M327.3 579.5h.01M330.3 579.5h.01M333.2 579.5h.01M336.1 579.5h.01M339.0 579.5h.01M333.2 576.6h.01M347.8 579.5h.01M353.7 579.5h.01M321.5 582.4h.01M344.9 585.4h.01M342.0 588.3h.01M344.9 588.3h.01M365.4 585.4h.01M303.9 588.3h.01M315.6 588.3h.01M321.5 588.3h.01M301.0 591.2h.01M306.8 591.2h.01M324.4 591.2h.01M333.2 591.2h.01M336.1 591.2h.01M333.2 594.2h.01M344.9 594.2h.01M347.8 594.2h.01M353.7 591.2h.01M359.5 591.2h.01M362.5 597.1h.01M365.4 597.1h.01M359.5 600.0h.01M339.0 600.0h.01M339.0 602.9h.01M309.8 602.9h.01M301.0 597.1h.01M347.8 605.9h.01M330.3 605.9h.01M321.5 605.9h.01M324.4 608.8h.01M315.6 608.8h.01M394.7 474.1h.01M377.1 479.9h.01M374.2 488.7h.01M388.8 518.0h.01M391.8 529.7h.01M400.6 535.6h.01M380.1 538.5h.01M377.1 550.2h.01M394.7 556.1h.01M391.8 561.9h.01M400.6 564.9h.01M383.0 564.9h.01M397.6 570.7h.01M397.6 573.7h.01M383.0 576.6h.01M385.9 582.4h.01M388.8 582.4h.01M388.8 588.3h.01M380.1 591.2h.01M394.7 594.2h.01M371.3 597.1h.01M377.1 600.0h.01M388.8 602.9h.01M397.6 605.9h.01M303.9 614.7h.01M318.5 611.7h.01M324.4 614.7h.01M324.4 620.5h.01M324.4 623.5h.01M336.1 620.5h.01M336.1 623.5h.01M342.0 623.5h.01M356.6 620.5h.01M359.5 617.6h.01M312.7 632.2h.01M330.3 638.1h.01M333.2 638.1h.01M324.4 644.0h.01M306.8 646.9h.01M333.2 649.8h.01M365.4 646.9h.01M324.4 658.6h.01M312.7 667.4h.01M303.9 670.3h.01M324.4 679.1h.01M350.8 679.1h.01M301.0 702.5h.01M383.0 620.5h.01M400.6 614.7h.01M403.5 620.5h.01M391.8 652.7h.01M388.8 658.6h.01M380.1 664.5h.01M403.5 685.0h.01M383.0 726.0h.01M403.5 649.8h.01M192.6 474.1h.01M169.2 529.7h.01M172.1 532.7h.01M186.7 529.7h.01M178.0 538.5h.01M178.0 541.4h.01M166.2 550.2h.01M172.1 550.2h.01M178.0 550.2h.01M134.0 556.1h.01M186.7 553.2h.01M192.6 553.2h.01M195.5 556.1h.01M195.5 559.0h.01M166.2 559.0h.01M169.2 561.9h.01M172.1 559.0h.01M160.4 564.9h.01M180.9 561.9h.01M183.8 561.9h.01M186.7 564.9h.01M186.7 567.8h.01M189.7 570.7h.01M178.0 573.7h.01M180.9 576.6h.01M163.3 576.6h.01M163.3 579.5h.01M163.3 582.4h.01M186.7 579.5h.01M189.7 579.5h.01M139.9 579.5h.01M134.0 585.4h.01M175.0 582.4h.01M195.5 588.3h.01M198.5 588.3h.01M122.3 594.2h.01M148.7 594.2h.01M163.3 591.2h.01M183.8 591.2h.01M189.7 591.2h.01M192.6 594.2h.01M169.2 597.1h.01M175.0 597.1h.01M180.9 602.9h.01M169.2 602.9h.01M163.3 605.9h.01M166.2 608.8h.01M195.5 605.9h.01M195.5 608.8h.01M172.1 611.7h.01M169.2 617.6h.01M178.0 620.5h.01M189.7 620.5h.01M180.9 626.4h.01M192.6 626.4h.01M195.5 623.5h.01M148.7 632.2h.01M151.6 632.2h.01M154.5 632.2h.01M163.3 635.2h.01M183.8 635.2h.01M189.7 632.2h.01M195.5 632.2h.01M175.0 641.0h.01M198.5 638.1h.01M154.5 646.9h.01M172.1 649.8h.01M163.3 655.7h.01M195.5 652.7h.01M195.5 655.7h.01M145.7 667.4h.01M178.0 673.2h.01M183.8 676.2h.01M195.5 673.2h.01M169.2 679.1h.01M148.7 687.9h.01M178.0 690.8h.01M195.5 693.7h.01M175.0 705.5h.01M426.9 450.6h.01M462.1 450.6h.01M465.0 447.7h.01M415.2 494.6h.01M447.4 491.6h.01M432.8 497.5h.01M426.9 503.4h.01M429.8 503.4h.01M421.1 512.1h.01M453.3 512.1h.01M491.4 509.2h.01M538.2 512.1h.01M555.8 520.9h.01M438.6 526.8h.01M462.1 526.8h.01M465.0 529.7h.01M470.9 529.7h.01M450.3 532.7h.01M441.6 535.6h.01M432.8 538.5h.01M415.2 538.5h.01M415.2 541.4h.01M456.2 538.5h.01M456.2 541.4h.01M465.0 538.5h.01M479.6 535.6h.01M479.6 538.5h.01M482.6 541.4h.01M441.6 544.4h.01M465.0 544.4h.01M470.9 544.4h.01M473.8 541.4h.01M485.5 544.4h.01M514.8 544.4h.01M421.1 702.5h.01M429.8 699.6h.01M432.8 702.5h.01M441.6 702.5h.01M444.5 705.5h.01M450.3 702.5h.01M470.9 705.5h.01M482.6 705.5h.01M485.5 699.6h.01M415.2 711.3h.01M432.8 711.3h.01M438.6 708.4h.01M453.3 711.3h.01M453.3 714.3h.01M465.0 714.3h.01M470.9 711.3h.01M432.8 720.1h.01M450.3 720.1h.01M467.9 720.1h.01M429.8 726.0h.01M447.4 723.0h.01M447.4 726.0h.01M421.1 728.9h.01M459.1 728.9h.01M447.4 731.8h.01M447.4 737.7h.01M465.0 737.7h.01M453.3 743.5h.01M456.2 743.5h.01M447.4 752.3h.01M459.1 752.3h.01M459.1 758.2h.01M450.3 764.0h.01M485.5 764.0h.01M421.1 767.0h.01M435.7 767.0h.01M432.8 769.9h.01M441.6 767.0h.01M462.1 767.0h.01M447.4 772.8h.01M336.1 66.9h.01M324.4 75.7h.01M324.4 81.6h.01M327.3 84.5h.01M330.3 87.4h.01M339.0 87.4h.01M327.3 96.2h.01M330.3 96.2h.01M336.1 96.2h.01M353.7 96.2h.01M344.9 102.1h.01M333.2 105.0h.01M339.0 107.9h.01M339.0 110.9h.01M324.4 110.9h.01M324.4 116.7h.01M327.3 119.7h.01M330.3 125.5h.01M330.3 131.4h.01M210.2 690.8h.01M224.8 690.8h.01M233.6 690.8h.01M268.7 690.8h.01M274.6 690.8h.01M277.5 690.8h.01M201.4 696.7h.01M233.6 696.7h.01M236.5 696.7h.01M239.5 693.7h.01M242.4 693.7h.01M251.2 696.7h.01M257.0 693.7h.01M265.8 693.7h.01M271.7 696.7h.01M274.6 696.7h.01M204.3 702.5h.01M219.0 702.5h.01M224.8 705.5h.01M245.3 699.6h.01M242.4 702.5h.01M242.4 705.5h.01M245.3 708.4h.01M248.2 711.3h.01M260.0 699.6h.01M265.8 705.5h.01M271.7 708.4h.01M274.6 711.3h.01M283.4 705.5h.01M233.6 711.3h.01M207.2 714.3h.01M216.0 714.3h.01M274.6 717.2h.01M213.1 726.0h.01M207.2 731.8h.01M248.2 731.8h.01M254.1 728.9h.01M260.0 731.8h.01M271.7 728.9h.01M274.6 734.8h.01M292.2 731.8h.01M224.8 740.6h.01M251.2 740.6h.01M260.0 740.6h.01M239.5 746.5h.01M227.7 749.4h.01M265.8 764.0h.01M172.1 72.8h.01M169.2 81.6h.01M172.1 84.5h.01M128.2 90.4h.01M125.2 93.3h.01M142.8 93.3h.01M163.3 90.4h.01M160.4 93.3h.01M157.4 96.2h.01M134.0 99.2h.01M134.0 102.1h.01M131.1 105.0h.01M128.2 107.9h.01M148.7 99.2h.01M160.4 102.1h.01M169.2 99.2h.01M169.2 102.1h.01M175.0 96.2h.01M175.0 99.2h.01M175.0 102.1h.01M169.2 107.9h.01M172.1 107.9h.01M175.0 107.9h.01M178.0 107.9h.01M151.6 107.9h.01M148.7 110.9h.01M160.4 110.9h.01M142.8 113.8h.01M154.5 113.8h.01M163.3 113.8h.01M166.2 113.8h.01M169.2 113.8h.01M163.3 116.7h.01M172.1 119.7h.01M136.9 119.7h.01M148.7 119.7h.01M122.3 125.5h.01M157.4 125.5h.01M160.4 125.5h.01M128.2 131.4h.01M139.9 134.3h.01M119.4 137.2h.01M119.4 140.2h.01M131.1 137.2h.01M169.2 137.2h.01M169.2 140.2h.01M172.1 134.3h.01M175.0 137.2h.01M145.7 143.1h.01M142.8 149.0h.01M154.5 149.0h.01M157.4 149.0h.01M160.4 146.0h.01M125.2 157.7h.01M148.7 157.7h.01M160.4 163.6h.01M142.8 178.2h.01M134.0 190.0h.01M198.5 181.2h.01M213.1 178.2h.01M227.7 178.2h.01M233.6 175.3h.01M230.7 181.2h.01M242.4 178.2h.01M254.1 178.2h.01M268.7 175.3h.01M274.6 172.4h.01M280.5 172.4h.01M289.3 175.3h.01M295.1 175.3h.01M280.5 181.2h.01M286.3 181.2h.01M295.1 181.2h.01M248.2 187.0h.01M248.2 190.0h.01M254.1 187.0h.01M260.0 190.0h.01M268.7 192.9h.01M283.4 190.0h.01M236.5 195.8h.01M242.4 201.7h.01M257.0 198.7h.01M262.9 195.8h.01M271.7 198.7h.01M277.5 201.7h.01M295.1 195.8h.01M315.6 195.8h.01M219.0 207.5h.01M283.4 207.5h.01M286.3 207.5h.01M221.9 219.2h.01M233.6 216.3h.01M245.3 216.3h.01M277.5 222.2h.01M207.2 228.0h.01M236.5 228.0h.01M257.0 225.1h.01M271.7 228.0h.01M274.6 228.0h.01M207.2 242.7h.01M210.2 242.7h.01M233.6 239.8h.01M207.2 254.4h.01M230.7 251.5h.01M254.1 248.5h.01M262.9 254.4h.01M219.0 260.3h.01M242.4 263.2h.01M295.1 263.2h.01M315.6 263.2h.01M210.2 272.0h.01M224.8 272.0h.01M286.3 272.0h.01M160.4 280.8h.01M230.7 277.8h.01M265.8 280.8h.01M268.7 283.7h.01M277.5 277.8h.01M318.5 274.9h.01M192.6 283.7h.01M221.9 283.7h.01M210.2 289.5h.01M257.0 289.5h.01M260.0 286.6h.01M277.5 289.5h.01M178.0 292.5h.01M224.8 298.3h.01M248.2 304.2h.01M254.1 301.3h.01M227.7 307.1h.01M219.0 310.0h.01M172.1 313.0h.01M172.1 315.9h.01M274.6 313.0h.01M277.5 318.8h.01M186.7 321.8h.01M195.5 324.7h.01M236.5 321.8h.01M254.1 321.8h.01M262.9 318.8h.01M221.9 339.3h.01M251.2 336.4h.01M274.6 336.4h.01M286.3 339.3h.01M148.7 348.1h.01M210.2 348.1h.01M242.4 345.2h.01M268.7 348.1h.01M280.5 345.2h.01M309.8 348.1h.01M289.3 351.1h.01M347.8 354.0h.01M242.4 354.0h.01M274.6 356.9h.01M277.5 356.9h.01M230.7 359.8h.01M356.6 368.6h.01M219.0 371.6h.01M224.8 374.5h.01M227.7 374.5h.01M245.3 374.5h.01M251.2 371.6h.01M254.1 374.5h.01M265.8 374.5h.01M271.7 374.5h.01M306.8 371.6h.01M318.5 371.6h.01M175.0 377.4h.01M195.5 380.3h.01M221.9 380.3h.01M233.6 383.3h.01M245.3 383.3h.01M262.9 383.3h.01M274.6 383.3h.01M318.5 380.3h.01M324.4 380.3h.01M362.5 386.2h.01M254.1 386.2h.01M236.5 389.1h.01M274.6 389.1h.01M277.5 389.1h.01M327.3 389.1h.01M201.4 395.0h.01M210.2 392.1h.01M210.2 397.9h.01M227.7 397.9h.01M248.2 395.0h.01M251.2 395.0h.01M262.9 392.1h.01M268.7 395.0h.01M268.7 400.8h.01M280.5 397.9h.01M353.7 400.8h.01M260.0 403.8h.01M265.8 406.7h.01M265.8 409.6h.01M192.6 409.6h.01M333.2 406.7h.01M271.7 412.6h.01M324.4 409.6h.01M309.8 415.5h.01M312.7 418.4h.01M324.4 415.5h.01M347.8 415.5h.01M257.0 418.4h.01M283.4 418.4h.01M178.0 421.4h.01M172.1 424.3h.01M248.2 421.4h.01M210.2 424.3h.01M251.2 427.2h.01M262.9 424.3h.01M268.7 427.2h.01M283.4 424.3h.01M327.3 427.2h.01M350.8 427.2h.01M286.3 430.1h.01M306.8 430.1h.01M207.2 433.1h.01M230.7 430.1h.01M239.5 427.2h.01M242.4 436.0h.01M245.3 433.1h.01M260.0 436.0h.01M265.8 436.0h.01M271.7 436.0h.01M277.5 436.0h.01M292.2 436.0h.01M327.3 433.1h.01M353.7 433.1h.01M280.5 438.9h.01M216.0 441.9h.01M233.6 441.9h.01M251.2 441.9h.01M321.5 441.9h.01M365.4 304.2h.01M374.2 107.9h.01M385.9 151.9h.01M403.5 157.7h.01M415.2 154.8h.01M394.7 169.5h.01M400.6 201.7h.01M462.1 195.8h.01M450.3 257.3h.01M467.9 263.2h.01M397.6 327.6h.01M403.5 327.6h.01M438.6 330.6h.01M391.8 345.2h.01M453.3 351.1h.01M371.3 374.5h.01M394.7 371.6h.01M453.3 389.1h.01M453.3 403.8h.01M421.1 406.7h.01M409.3 409.6h.01M412.3 415.5h.01M380.1 412.6h.01M388.8 421.4h.01M447.4 424.3h.01M371.3 438.9h.01M467.9 441.9h.01M769.6 318.8h.01M755.0 356.9h.01M731.5 377.4h.01M711.0 386.2h.01M708.1 395.0h.01M705.2 400.8h.01M705.2 406.7h.01M684.7 441.9h.01M643.7 471.1h.01M620.2 485.8h.01M590.9 488.7h.01M620.2 503.4h.01M506.0 547.3h.01M561.6 553.2h.01M535.3 556.1h.01M529.4 561.9h.01M517.7 567.8h.01M526.5 567.8h.01M520.6 579.5h.01M529.4 579.5h.01M517.7 591.2h.01M520.6 602.9h.01M506.0 573.7h.01" fill="none" stroke="#440e82" stroke-width="4" stroke-linecap="round"/>
<path d="M127.6 54.7h.01M127.0 69.9h.01M136.5 69.9h.01M118.9 78.8h.01M136.5 78.4h.01M148.2 75.9h.01M145.1 81.4h.01M139.5 87.5h.01M154.6 87.5h.01M157.3 87.5h.01M165.4 84.4h.01M170.8 66.1h.01M169.0 81.3h.01" fill="none" stroke="#2d2a73" stroke-width="2.6" stroke-linecap="round"/>
<rect x="107.4" y="29.3" width="747.2" height="746.1" fill="none" stroke="#000" stroke-width="3"/>
<path d="M367.1 28V445L370.3 776.5" fill="none" stroke="#000" stroke-width="3.4"/>
<path d="M107 445.2L367 444.4L854.6 447" fill="none" stroke="#000" stroke-width="3.2"/>
<path d="M90.3 32.5H107M90.3 216.3H107M90.3 404.1H107M90.3 591.2H107M100.2 38.3H107M100.2 47.8H107M100.2 60.5H107M100.2 72.8H107M100.2 88.4H107M100.2 104.4H107M100.2 129.3H107M100.2 160.2H107M100.2 226.1H107M100.2 235.4H107M100.2 247.8H107M100.2 260.4H107M100.2 272.6H107M100.2 291.4H107M100.2 316.3H107M100.2 347.7H107M100.2 413.4H107M100.2 422.5H107M100.2 432.3H107M100.2 444.7H107M100.2 460.5H107M100.2 478.7H107M100.2 500.5H107M100.2 535.2H107M100.2 600.4H107M100.2 610.4H107M100.2 619.4H107M100.2 632.0H107M100.2 647.5H107M100.2 666.3H107M100.2 688.2H107M100.2 722.3H107M292.5 775V792.6M479.5 775V792.6M667.3 775V792.6M851.4 775V792.6M160.7 775V783.7M195.5 775V783.7M217.3 775V783.7M235.6 775V783.7M251.3 775V783.7M264.1 775V783.7M273.4 775V783.7M282.5 775V783.7M348.4 775V783.7M382.4 775V783.7M404.5 775V783.7M423.5 775V783.7M439.3 775V783.7M451.5 775V783.7M460.8 775V783.7M470.6 775V783.7M535.7 775V783.7M567.4 775V783.7M592.4 775V783.7M610.5 775V783.7M623.4 775V783.7M635.4 775V783.7M648.4 775V783.7M657.3 775V783.7M723.6 775V783.7M754.5 775V783.7M779.5 775V783.7M795.4 775V783.7M810.6 775V783.7M823.3 775V783.7M835.8 775V783.7M845.6 775V783.7" fill="none" stroke="#000" stroke-width="2.9"/>
<g opacity="0.999"><g transform="translate(47.8 42.4) scale(0.9 1)"><text x="-2.2" y="0" font-size="28.1">10</text><text x="30.4" y="-11.3" font-size="19.6" textLength="10" lengthAdjust="spacingAndGlyphs">3</text></g>
<g transform="translate(47.8 226.20000000000002) scale(0.9 1)"><text x="-2.2" y="0" font-size="28.1">10</text><text x="30.4" y="-11.3" font-size="19.6" textLength="10" lengthAdjust="spacingAndGlyphs">2</text></g>
<g transform="translate(47.8 414.0) scale(0.9 1)"><text x="-2.2" y="0" font-size="28.1">10</text><text x="30.4" y="-11.3" font-size="19.6" textLength="10" lengthAdjust="spacingAndGlyphs">1</text></g>
<g transform="translate(47.8 601.1) scale(0.9 1)"><text x="-2.2" y="0" font-size="28.1">10</text><text x="30.4" y="-11.3" font-size="19.6" textLength="10" lengthAdjust="spacingAndGlyphs">0</text></g>
<g transform="translate(274.9 825.2) scale(0.9 1)"><text x="-2.2" y="0" font-size="28.1">10</text><text x="30.4" y="-11.3" font-size="19.6" textLength="10" lengthAdjust="spacingAndGlyphs">0</text></g>
<g transform="translate(461.9 825.2) scale(0.9 1)"><text x="-2.2" y="0" font-size="28.1">10</text><text x="30.4" y="-11.3" font-size="19.6" textLength="10" lengthAdjust="spacingAndGlyphs">1</text></g>
<g transform="translate(649.6999999999999 825.2) scale(0.9 1)"><text x="-2.2" y="0" font-size="28.1">10</text><text x="30.4" y="-11.3" font-size="19.6" textLength="10" lengthAdjust="spacingAndGlyphs">2</text></g>
<g transform="translate(833.8 825.2) scale(0.9 1)"><text x="-2.2" y="0" font-size="28.1">10</text><text x="30.4" y="-11.3" font-size="19.6" textLength="10" lengthAdjust="spacingAndGlyphs">3</text></g>
<text transform="translate(404.3 864.5) scale(0.848 1)" x="-1.8" y="0" font-size="37.6">CD4-FITC</text>
<text transform="translate(31.2 458.9) rotate(-90) scale(0.828 1)" x="-1.8" y="0" font-size="37.6">CD8-PE</text></g>
</svg></body></html>
